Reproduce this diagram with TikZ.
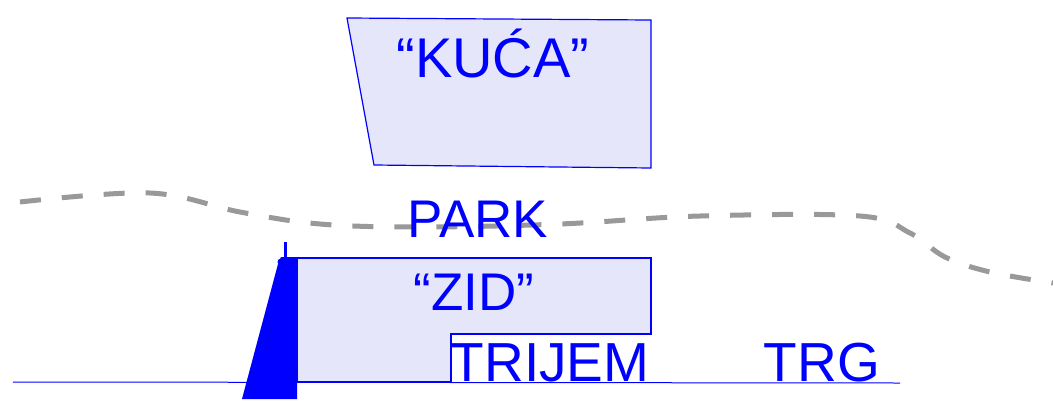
\documentclass[tikz,border=0pt]{standalone}
\usepackage{fontspec}
\setmainfont{Liberation Sans}
\definecolor{lavanda}{RGB}{230,230,250}
\begin{document}
\begin{tikzpicture}[x=1pt,y=-1pt,
		zgrada/.style={draw=blue,fill=lavanda,line width=1.2pt},
		natpis/.style={text=blue,inner sep=0pt,anchor=base,font=\fontsize{55}{60}\selectfont},
		granica/.style={draw=gray!80,line width=5pt,dash pattern=on 21pt off 21pt} ]
	\useasboundingbox (0,0) rectangle (1053,408);
	\draw [granica] plot[smooth,tension=0.6] coordinates {(20,202) (150,193) (240,212) (320,224) (420,227) (560,224) (700,216) (860,216) (910,233) (945,257) (990,272) (1053,283)};
	\draw [zgrada] (347,18) -- (651,20) -- (651,168) -- (374,165) -- cycle;
	\draw [zgrada] (297,258) -- (651,258) -- (651,334) -- (451,334) -- (451,382) -- (297,382) -- cycle;
	\draw [blue,line width=1pt] (13,382) -- (900,383);
	\fill [blue] (242,399) -- (278,264) -- (281,257) -- (297,257) -- (297,399) -- cycle;
	\fill [blue] (281,262) circle (3.5);
	\draw [blue,line width=3pt] (285,242) -- (285,259);
	\node [natpis,font=\fontsize{56}{60}\selectfont] (kuca) at (493,77) {“KUĆA”};
	\node [natpis,font=\fontsize{53}{60}\selectfont] (park) at (478,237) {PARK};
	\node [natpis,font=\fontsize{53}{60}\selectfont] (zid) at (474,310) {“ZID”};
	\node [natpis] (trijem) at (550,381) {TRIJEM};
	\node [natpis] (trg) at (822,381) {TRG};
\end{tikzpicture}
\end{document}
